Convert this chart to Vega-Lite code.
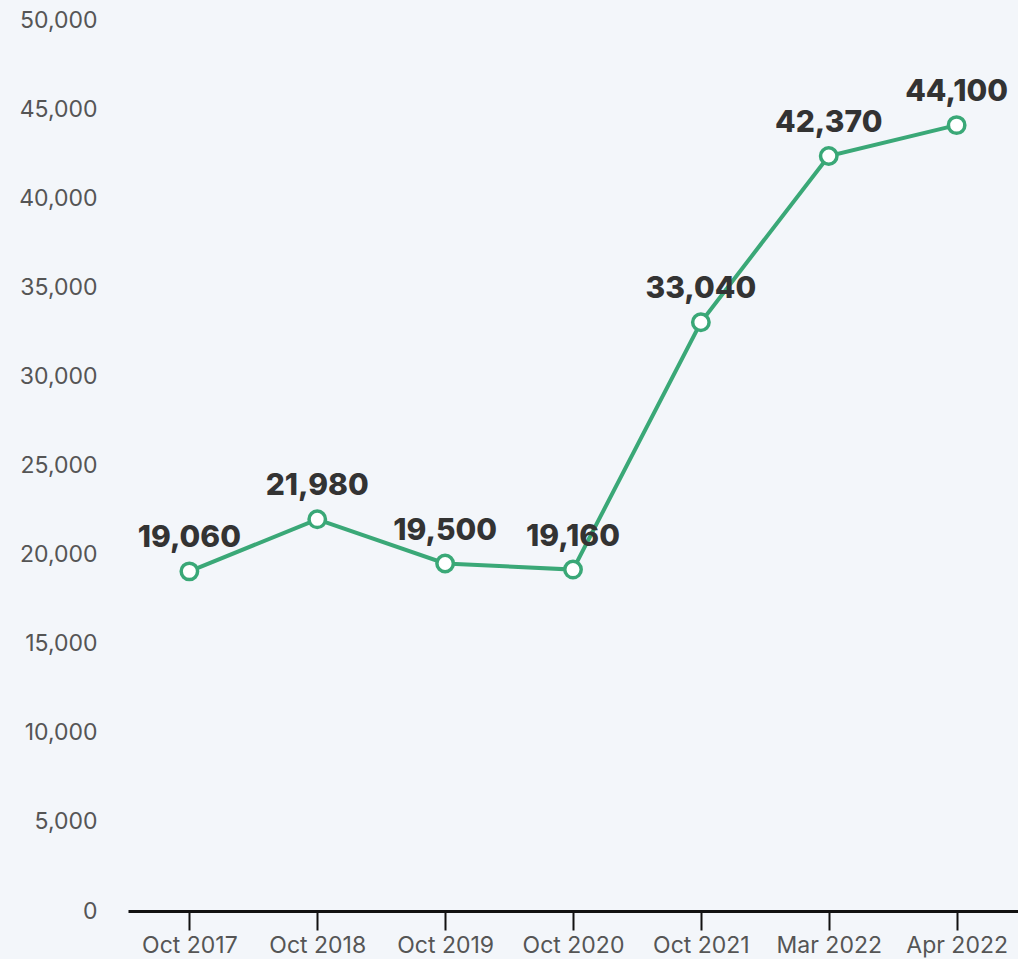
{
  "$schema": "https://vega.github.io/schema/vega-lite/v6.json",
  "width": 890,
  "height": 891,
  "autosize": {"type": "none"},
  "padding": {"left": 128, "top": 20, "right": 0, "bottom": 48},
  "background": "#f3f6fa",
  "config": {"view": {"stroke": null}, "font": "Inter"},
  "data": {
    "values": [
      {"period": "Oct 2017", "value": 19060},
      {"period": "Oct 2018", "value": 21980},
      {"period": "Oct 2019", "value": 19500},
      {"period": "Oct 2020", "value": 19160},
      {"period": "Oct 2021", "value": 33040},
      {"period": "Mar 2022", "value": 42370},
      {"period": "Apr 2022", "value": 44100}
    ]
  },
  "encoding": {
    "x": {
      "field": "period",
      "type": "ordinal",
      "sort": null,
      "scale": {"type": "point", "padding": 0.48},
      "axis": {
        "title": null,
        "labelAngle": 0,
        "labelFontSize": 23,
        "labelColor": "#555555",
        "labelPadding": 4,
        "domainColor": "#111111",
        "domainWidth": 3,
        "tickColor": "#111111",
        "tickWidth": 2,
        "tickSize": 19,
        "grid": false
      }
    },
    "y": {
      "field": "value",
      "type": "quantitative",
      "scale": {"domain": [0, 50000], "nice": false},
      "axis": {
        "title": null,
        "values": [0, 5000, 10000, 15000, 20000, 25000, 30000, 35000, 40000, 45000, 50000],
        "format": ",.0f",
        "labelFontSize": 23,
        "labelColor": "#555555",
        "labelPadding": 31,
        "domain": false,
        "ticks": false,
        "grid": false
      }
    }
  },
  "layer": [
    {
      "mark": {"type": "line", "color": "#3aa877", "strokeWidth": 4}
    },
    {
      "mark": {"type": "point", "shape": "circle", "filled": true, "fill": "#ffffff", "stroke": "#3aa877", "strokeWidth": 3.5, "size": 270, "opacity": 1}
    },
    {
      "mark": {"type": "text", "fontSize": 30, "fontWeight": 800, "color": "#333333", "dy": -33, "baseline": "middle"},
      "encoding": {"text": {"field": "value", "type": "quantitative", "format": ","}}
    }
  ]
}
